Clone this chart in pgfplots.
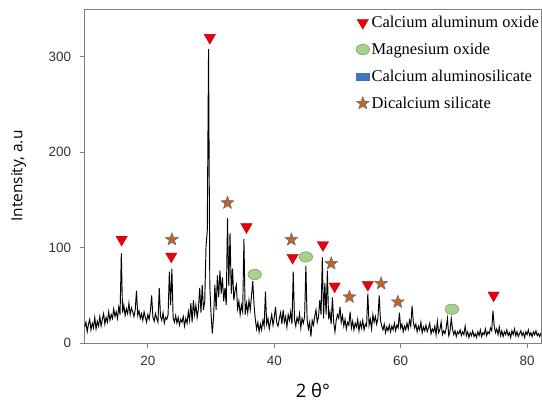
\documentclass[border=0pt]{standalone}
\usepackage{fontspec}
\setmainfont{Liberation Serif}
\newfontfamily\arialf{Liberation Sans}
\newfontfamily\opensans{Open Sans}
\usepackage{pgfplots}
\pgfplotsset{compat=1.18}

\definecolor{redM}{HTML}{E8000B}
\definecolor{redD}{HTML}{B00010}
\definecolor{greenM}{HTML}{A9D18E}
\definecolor{greenD}{HTML}{6E9A55}
\definecolor{brownM}{HTML}{C0652A}
\definecolor{starD}{HTML}{5A6478}
\definecolor{blueR}{HTML}{4472C4}
\definecolor{axisG}{HTML}{7F7F7F}

% filled five-pointed star
\pgfdeclareplotmark{fstar}{%
  \pgfpathmoveto{\pgfpointpolar{90}{\pgfplotmarksize}}%
  \pgfpathlineto{\pgfpointpolar{126}{0.42\pgfplotmarksize}}%
  \pgfpathlineto{\pgfpointpolar{162}{\pgfplotmarksize}}%
  \pgfpathlineto{\pgfpointpolar{198}{0.42\pgfplotmarksize}}%
  \pgfpathlineto{\pgfpointpolar{234}{\pgfplotmarksize}}%
  \pgfpathlineto{\pgfpointpolar{270}{0.42\pgfplotmarksize}}%
  \pgfpathlineto{\pgfpointpolar{306}{\pgfplotmarksize}}%
  \pgfpathlineto{\pgfpointpolar{342}{0.42\pgfplotmarksize}}%
  \pgfpathlineto{\pgfpointpolar{18}{\pgfplotmarksize}}%
  \pgfpathlineto{\pgfpointpolar{54}{0.42\pgfplotmarksize}}%
  \pgfpathclose
  \pgfusepathqfillstroke}

\pgfplotsset{
  tri/.style={only marks, mark=triangle*, mark size=6.6bp,
    mark options={rotate=180, fill=redM, draw=redD, line width=0.3pt}},
  ell/.style={only marks, mark=*, mark size=5.2bp,
    mark options={xscale=1.3, fill=greenM, draw=greenD, line width=0.5pt}},
  sta/.style={only marks, mark=fstar, mark size=6.8bp,
    mark options={fill=brownM, draw=starD, line width=0.4pt}},
}

\begin{document}
\begin{tikzpicture}
\begin{axis}[
  scale only axis,
  width=456bp, height=334bp,
  xmin=10, xmax=82.2, ymin=0, ymax=350,
  xtick={20,40,60,80}, ytick={0,100,200,300},
  axis line style={draw=axisG, line width=1pt},
  tick align=outside, tick pos=left,
  major tick length=5bp,
  tick style={draw=axisG, line width=0.8pt},
  /pgf/number format/assume math mode=true,
  ticklabel style={font=\arialf\fontsize{13.5}{14}\selectfont, text=black!80},
  yticklabel style={xshift=-5bp},
  xticklabel style={yshift=-4bp},
  xlabel={\opensans 2 θ°},
  xlabel style={font=\fontsize{18.5}{19}\selectfont, at={(axis description cs:0.5,0)}, anchor=base, yshift=-54bp},
  ylabel={\opensans Intensity, a.u},
  ylabel style={font=\fontsize{15.5}{16}\selectfont, at={(axis description cs:-0.145,0.5)}, anchor=center},
  legend style={at={(1,1)}, anchor=north east, draw=none, fill=none,
    font=\fontsize{16.5}{16.5}\selectfont, row sep=10bp, inner xsep=0bp, yshift=-3bp},
  legend cell align=left,
]
\coordinate (ll) at (rel axis cs:0,0);
\coordinate (ur) at (rel axis cs:1,1);

\addplot[black, line width=0.95pt, forget plot] coordinates {
(10.0,17)(10.2,22)(10.4,12)(10.6,20)(10.8,25)(11.0,14)(11.2,21)(11.4,16)(11.6,27)(11.8,15)
(12.0,23)(12.2,18)(12.4,28)(12.6,18)(12.8,25)(13.0,31)(13.2,20)(13.4,27)(13.6,22)(13.8,33)
(14.0,24)(14.2,30)(14.4,26)(14.6,36)(14.8,28)(15.0,33)(15.2,26)(15.4,38)(15.6,30)(15.8,94)
(16.0,32)(16.2,40)(16.4,29)(16.6,36)(16.8,31)(17.0,42)(17.2,30)(17.4,37)(17.6,33)(17.8,28)
(18.0,35)(18.2,55)(18.4,29)(18.6,34)(18.8,26)(19.0,31)(19.2,24)(19.4,33)(19.6,27)(19.8,22)
(20.0,30)(20.2,25)(20.4,34)(20.6,50)(20.8,27)(21.0,23)(21.2,31)(21.4,26)(21.6,22)(21.8,58)
(22.0,28)(22.2,24)(22.4,32)(22.6,21)(22.8,27)(23.0,25)(23.2,30)(23.4,75)(23.6,40)(23.8,78)
(24.0,26)(24.2,22)(24.4,29)(24.6,21)(24.8,27)(25.0,19)(25.2,25)(25.4,22)(25.6,28)(25.8,18)
(26.0,26)(26.2,21)(26.4,33)(26.6,24)(26.8,42)(27.0,22)(27.2,45)(27.4,30)(27.6,40)(27.8,27)
(28.0,36)(28.2,58)(28.4,32)(28.6,61)(28.8,35)(29.0,44)(29.2,101)(29.4,118)(29.6,308)(29.8,60)
(30.0,30)(30.2,10)(30.4,28)(30.6,61)(30.8,35)(31.0,71)(31.2,48)(31.4,76)(31.6,52)(31.8,69)
(32.0,44)(32.2,58)(32.4,40)(32.6,131)(32.8,60)(33.0,115)(33.2,52)(33.4,78)(33.6,45)(33.8,55)
(34.0,61)(34.2,36)(34.4,44)(34.6,30)(34.8,40)(35.0,33)(35.2,109)(35.4,30)(35.6,42)(35.8,32)
(36.0,45)(36.2,35)(36.4,50)(36.6,65)(36.8,40)(37.0,25)(37.2,15)(37.4,22)(37.6,12)(37.8,20)
(38.0,14)(38.2,24)(38.4,18)(38.6,54)(38.8,20)(39.0,26)(39.2,15)(39.4,23)(39.6,30)(39.8,19)
(40.0,27)(40.2,38)(40.4,21)(40.6,18)(40.8,26)(41.0,32)(41.2,20)(41.4,35)(41.6,22)(41.8,28)
(42.0,17)(42.2,30)(42.4,24)(42.6,33)(42.8,20)(43.0,75)(43.2,25)(43.4,18)(43.6,27)(43.8,22)
(44.0,31)(44.2,16)(44.4,26)(44.6,21)(44.8,28)(45.0,81)(45.2,24)(45.4,15)(45.6,22)(45.8,7)
(46.0,24)(46.2,19)(46.4,28)(46.6,35)(46.8,22)(47.0,28)(47.2,45)(47.4,30)(47.6,90)(47.8,26)
(48.0,63)(48.2,30)(48.4,76)(48.6,25)(48.8,33)(49.0,20)(49.2,48)(49.4,22)(49.6,12)(49.8,24)
(50.0,30)(50.2,26)(50.4,38)(50.6,22)(50.8,29)(51.0,18)(51.2,25)(51.4,15)(51.6,22)(51.8,19)
(52.0,33)(52.2,16)(52.4,23)(52.6,14)(52.8,21)(53.0,17)(53.2,25)(53.4,13)(53.6,22)(53.8,16)
(54.0,24)(54.2,14)(54.4,20)(54.6,18)(54.8,52)(55.0,19)(55.2,25)(55.4,15)(55.6,30)(55.8,22)
(56.0,28)(56.2,20)(56.4,26)(56.6,50)(56.8,24)(57.0,18)(57.2,14)(57.4,20)(57.6,11)(57.8,17)
(58.0,13)(58.2,19)(58.4,12)(58.6,18)(58.8,14)(59.0,21)(59.2,13)(59.4,19)(59.6,16)(59.8,32)
(60.0,16)(60.2,20)(60.4,12)(60.6,18)(60.8,14)(61.0,21)(61.2,15)(61.4,24)(61.6,18)(61.8,39)
(62.0,22)(62.2,16)(62.4,20)(62.6,12)(62.8,18)(63.0,14)(63.2,22)(63.4,11)(63.6,17)(63.8,13)
(64.0,19)(64.2,12)(64.4,16)(64.6,21)(64.8,10)(65.0,15)(65.2,12)(65.4,18)(65.6,9)(65.8,23)
(66.0,11)(66.2,14)(66.4,22)(66.6,9)(66.8,13)(67.0,10)(67.2,16)(67.4,26)(67.6,8)(67.8,12)
(68.0,26)(68.2,15)(68.4,9)(68.6,13)(68.8,7)(69.0,12)(69.2,10)(69.4,14)(69.6,8)(69.8,12)
(70.0,9)(70.2,18)(70.4,8)(70.6,12)(70.8,6)(71.0,11)(71.2,8)(71.4,13)(71.6,7)(71.8,10)
(72.0,6)(72.2,12)(72.4,8)(72.6,14)(72.8,7)(73.0,11)(73.2,9)(73.4,15)(73.6,8)(73.8,12)
(74.0,10)(74.2,16)(74.4,13)(74.6,34)(74.8,18)(75.0,11)(75.2,15)(75.4,9)(75.6,17)(75.8,8)
(76.0,13)(76.2,7)(76.4,12)(76.6,9)(76.8,14)(77.0,8)(77.2,11)(77.4,6)(77.6,13)(77.8,9)
(78.0,15)(78.2,8)(78.4,12)(78.6,7)(78.8,10)(79.0,13)(79.2,8)(79.4,11)(79.6,6)(79.8,12)
(80.0,9)(80.2,14)(80.4,8)(80.6,11)(80.8,7)(81.0,12)(81.2,9)(81.4,13)(81.6,8)(81.8,10)
(82.0,7)(82.2,11)
};

% phase markers
\addplot[tri, forget plot] coordinates {
(15.85,108.6)(23.7,91)(29.8,320)(35.6,121.8)(42.9,89.7)(47.7,103)(49.55,59.7)(54.8,61.4)(74.7,50.3)};
\addplot[ell, forget plot] coordinates {(36.9,72)(45.0,90.4)(68.1,35.6)};
\addplot[sta, forget plot] coordinates {
(23.8,108.6)(32.6,147)(42.7,108.5)(49.0,83.4)(51.9,48.5)(56.9,62.5)(59.55,43.2)};

% legend
\addlegendimage{tri}
\addlegendentry{Calcium aluminum oxide}
\addlegendimage{ell}
\addlegendentry{Magnesium oxide}
\addlegendimage{legend image code/.code={\fill[blueR] (0.07cm,-0.12cm) rectangle (0.53cm,0.12cm);}}
\addlegendentry{Calcium aluminosilicate}
\addlegendimage{sta}
\addlegendentry{Dicalcium silicate}
\end{axis}
\pgfresetboundingbox
\path[use as bounding box] ([shift={(-84.6bp,-60bp)}]ll) rectangle ([shift={(1bp,9bp)}]ur);
\end{tikzpicture}
\end{document}
